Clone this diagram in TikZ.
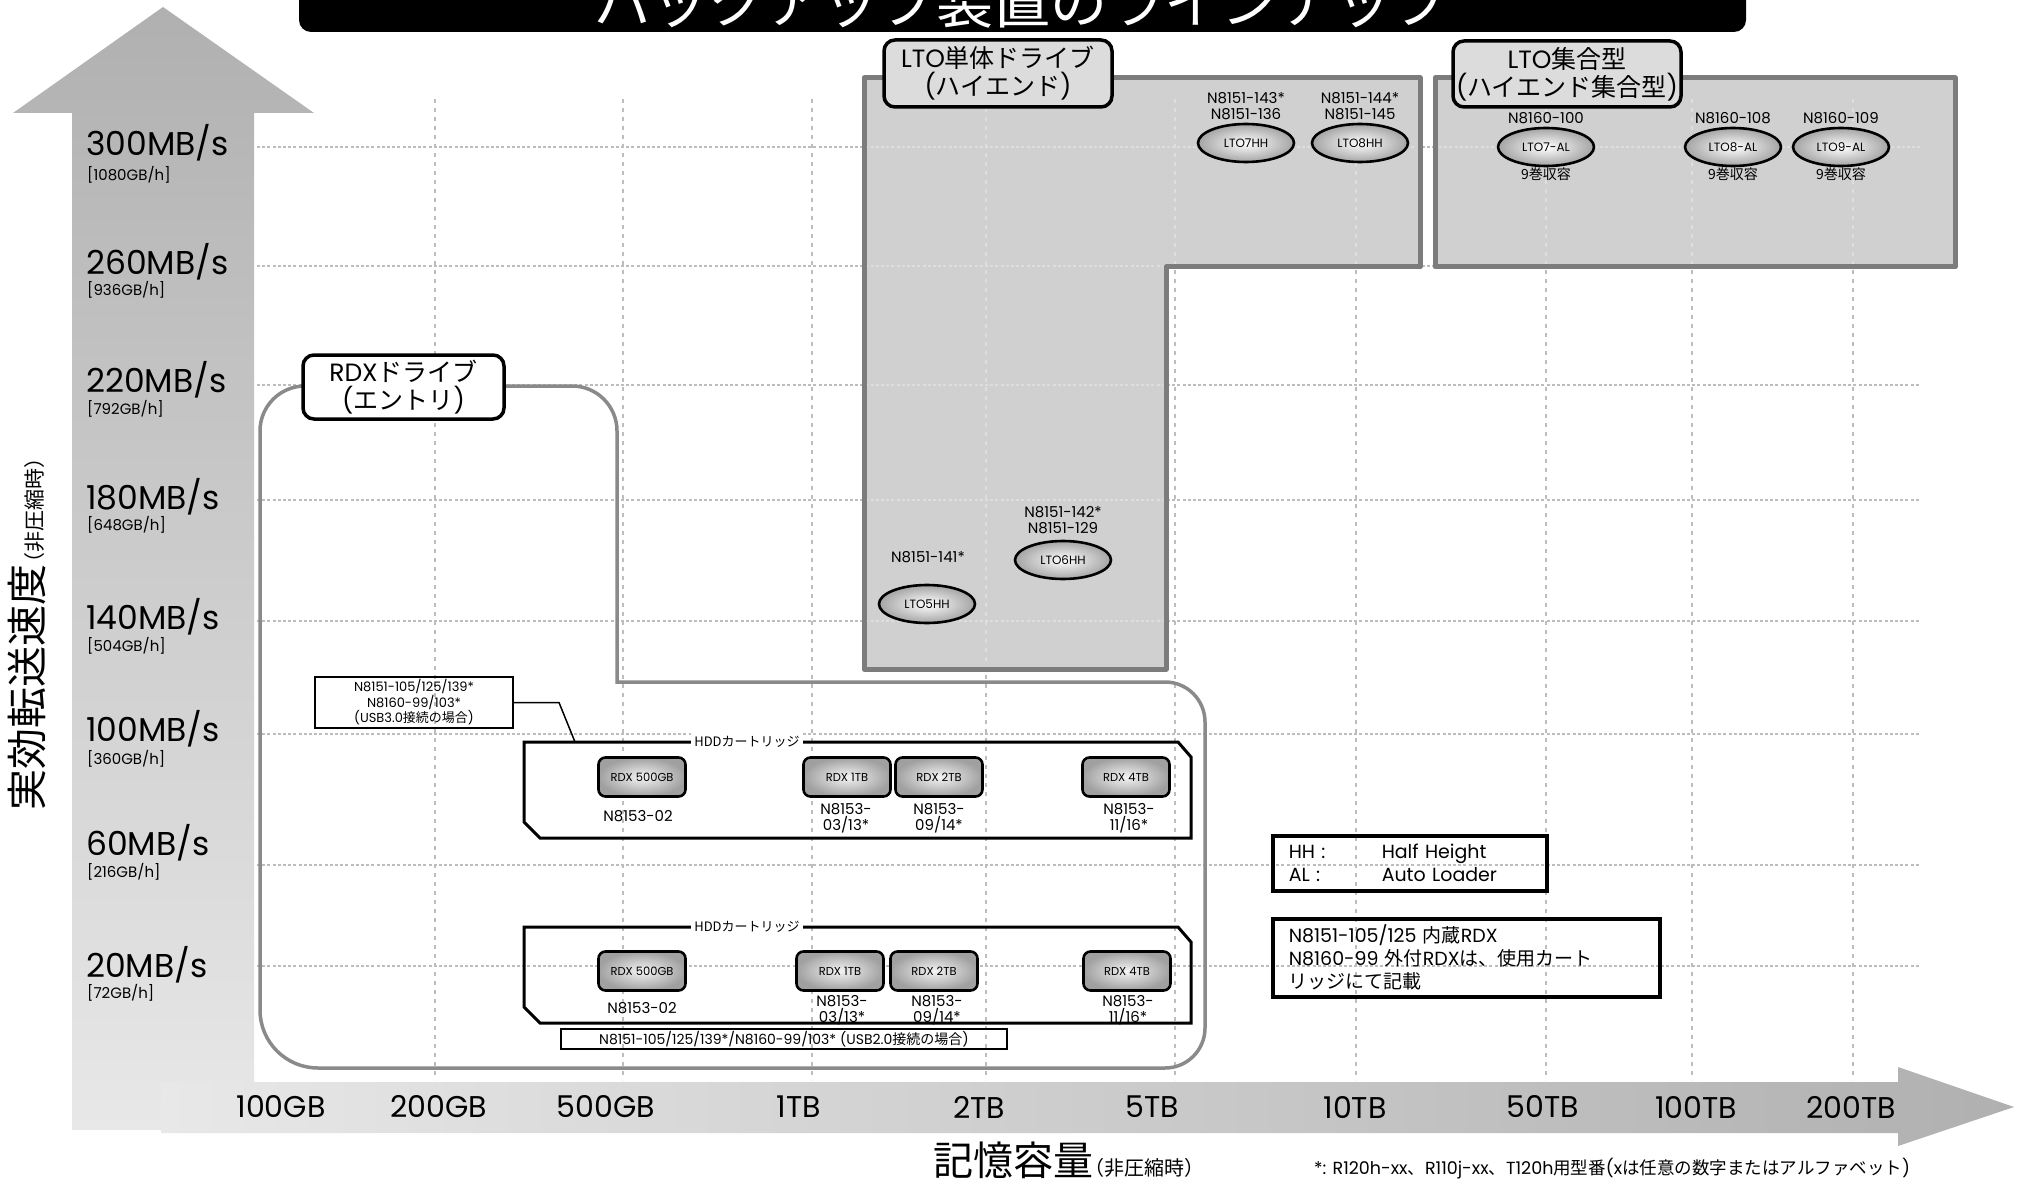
\documentclass[tikz,border=0pt]{standalone}
\usepackage{fontspec}
\setmainfont{Poppins}
\newfontfamily\jp{Noto Sans CJK JP}
\usetikzlibrary{shapes.geometric}
\newcommand\myfs[2]{\fontsize{#1}{#2}\selectfont}
\definecolor{gridc}{HTML}{BDBDBD}
\definecolor{gridlto}{HTML}{DEDEDE}
\definecolor{ltofill}{HTML}{D0D0D0}
\definecolor{ltoedge}{HTML}{7C7C7C}
\definecolor{rdxedge}{HTML}{8A8A8A}
\definecolor{armdark}{HTML}{B0B0B0}
\definecolor{armlight}{HTML}{E8E8E8}
\definecolor{lblfill}{HTML}{DCDCDC}
\definecolor{ellout}{HTML}{A4A4A4}
\definecolor{cartin}{HTML}{F4F4F4}
\definecolor{cartout}{HTML}{A0A0A0}
\begin{document}
\begin{tikzpicture}[x=1pt,y=-1pt,
  hgrid/.style={draw=gridc,line width=2.6pt,dash pattern=on 3pt off 2.2pt},
  vgrid/.style={draw=gridc,line width=2.6pt,dash pattern=on 4pt off 5pt},
  hgridl/.style={draw=gridlto,line width=2.6pt,dash pattern=on 3pt off 2.2pt},
  vgridl/.style={draw=gridlto,line width=2.6pt,dash pattern=on 4pt off 5pt},
  ltoregion/.style={fill=ltofill,draw=ltoedge,line width=5pt,line join=round},
  rdxline/.style={draw=rdxedge,line width=3.5pt},
  regtitle/.style={draw=black,line width=3.5pt,rounded corners=11pt,align=center,inner sep=0pt,font=\myfs{25}{28}},
  ltoell/.style={ellipse,draw=black,line width=2.6pt,minimum width=96pt,minimum height=38pt,inner sep=0pt,inner color=white,outer color=ellout,font=\myfs{12}{12}},
  rdxcart/.style={rectangle,rounded corners=7pt,draw=black,line width=2.6pt,minimum width=87pt,minimum height=39pt,inner sep=0pt,inner color=cartin,outer color=cartout,font=\myfs{11.5}{12}},
  model/.style={align=center,inner sep=0pt,font=\myfs{15}{16}},
  grpbox/.style={draw=black,line width=3pt,line join=miter},
  grplbl/.style={fill=white,inner sep=3pt,font=\jp\myfs{13}{13}},
  ylab/.style={anchor=west,inner sep=0pt,font=\myfs{33}{33}},
  ysub/.style={anchor=west,inner sep=0pt,font=\myfs{15}{15}},
  xlab/.style={inner sep=0pt,font=\myfs{30}{30}},
  legbox/.style={draw=black,line width=3.5pt,anchor=north west,align=left,inner xsep=16pt,inner ysep=0pt,font=\myfs{19}{23}},
  callbox/.style={draw=black,line width=1.5pt,align=center,inner sep=0pt,font=\myfs{13}{15.5}}
]
\useasboundingbox (0,0) rectangle (2018,1182);
\fill[white] (0,0) rectangle (2018,1182);

% axis arrows
\shade[top color=armdark,bottom color=armlight] (13,113) -- (163,7) -- (314,113) -- (254,113) -- (254,1130) -- (72,1130) -- (72,113) -- cycle;
\shade[left color=armlight,right color=armdark] (161,1082) -- (1898,1082) -- (1898,1067) -- (2014,1107) -- (1898,1146) -- (1898,1133) -- (161,1133) -- cycle;

% title bar
\fill[black,rounded corners=12pt] (299,-40) rectangle (1746,32);
\node[white,font=\jp\myfs{57}{57},anchor=base,inner sep=0pt] (title) at (1022,24) {バックアップ装置のラインナップ};

% grid
\foreach \y in {147,266,385,500,621,734,865,966} \draw[hgrid] (257,\y) -- (1920,\y);
\foreach \x in {435,623,812,986,1175,1356,1546,1692,1853} \draw[vgrid] (\x,99) -- (\x,1080);

% LTO regions
\draw[ltoregion] (864,78) -- (1420,78) -- (1420,267) -- (1166,267) -- (1166,669) -- (864,669) -- cycle;
\draw[ltoregion] (1435,78) rectangle (1955,267);
\begin{scope}
\clip (867,81) -- (1417,81) -- (1417,264) -- (1163,264) -- (1163,666) -- (867,666) -- cycle;
\foreach \y in {147,266,385,500,621} \draw[hgridl] (257,\y) -- (1920,\y);
\foreach \x in {986,1175,1356} \draw[vgridl] (\x,99) -- (\x,1080);
\end{scope}
\begin{scope}
\clip (1438,81) rectangle (1952,264);
\draw[hgridl] (1257,147) -- (1920,147);
\foreach \x in {1546,1692,1853} \draw[vgridl] (\x,99) -- (\x,1080);
\end{scope}

% RDX region outline
\draw[rdxline] (260,1010) -- (260,431) arc[start angle=180,end angle=270,radius=45] -- (572,386) arc[start angle=270,end angle=360,radius=45] -- (617,682) -- (1165,682) arc[start angle=270,end angle=360,radius=40] -- (1205,1028) arc[start angle=0,end angle=90,radius=40] -- (318,1068) arc[start angle=90,end angle=180,radius=58] -- cycle;

% region titles
\node[regtitle,fill=lblfill,minimum width=228pt,minimum height=67pt] (ltoA) at (998,73.5) {LTO{\jp 単体ドライブ}\\({\jp ハイエンド})};
\node[regtitle,fill=lblfill,minimum width=228pt,minimum height=66pt] (ltoB) at (1567,74) {LTO{\jp 集合型}\\({\jp ハイエンド集合型})};
\node[regtitle,fill=white,minimum width=201pt,minimum height=64pt] (rdxT) at (403.5,387) {RDX{\jp ドライブ}\\({\jp エントリ})};

% LTO drives
\node[ltoell] (lto7hh) at (1246,143) {LTO7HH};
\node[model] (m7hh) at (1246,106) {N8151-143*\\N8151-136};
\node[ltoell] (lto8hh) at (1360,143) {LTO8HH};
\node[model] (m8hh) at (1360,106) {N8151-144*\\N8151-145};
\node[ltoell] (lto7al) at (1546,147) {LTO7-AL};
\node[model] (m7al) at (1546,118) {N8160-100};
\node[model,font=\jp\myfs{14}{14}] (c7al) at (1546,174) {9巻収容};
\node[ltoell] (lto8al) at (1733,147) {LTO8-AL};
\node[model] (m8al) at (1733,118) {N8160-108};
\node[model,font=\jp\myfs{14}{14}] (c8al) at (1733,174) {9巻収容};
\node[ltoell] (lto9al) at (1841,147) {LTO9-AL};
\node[model] (m9al) at (1841,118) {N8160-109};
\node[model,font=\jp\myfs{14}{14}] (c9al) at (1841,174) {9巻収容};
\node[ltoell] (lto5hh) at (927,604) {LTO5HH};
\node[model] (m5hh) at (928,557) {N8151-141*};
\node[ltoell] (lto6hh) at (1063,560) {LTO6HH};
\node[model] (m6hh) at (1063,520) {N8151-142*\\N8151-129};

% HDD cartridge groups
\draw[grpbox] (524,742) -- (1178,742) -- (1191,757) -- (1191,838) -- (540,838) -- (524,822) -- cycle;
\node[grplbl] (hddA) at (747,742) {HDDカートリッジ};
\node[rdxcart] (ca1) at (642,777) {RDX 500GB};
\node[rdxcart] (ca2) at (847,777) {RDX 1TB};
\node[rdxcart] (ca3) at (939,777) {RDX 2TB};
\node[rdxcart] (ca4) at (1126,777) {RDX 4TB};
\node[model] (la1) at (638,816) {N8153-02};
\node[model] (la2) at (846,818) {N8153-\\03/13*};
\node[model] (la3) at (939,818) {N8153-\\09/14*};
\node[model] (la4) at (1129,818) {N8153-\\11/16*};

\draw[grpbox] (524,927) -- (1178,927) -- (1191,942) -- (1191,1023) -- (540,1023) -- (524,1007) -- cycle;
\node[grplbl] (hddB) at (747,927) {HDDカートリッジ};
\node[rdxcart] (cb1) at (642,971) {RDX 500GB};
\node[rdxcart] (cb2) at (840,971) {RDX 1TB};
\node[rdxcart] (cb3) at (934,971) {RDX 2TB};
\node[rdxcart] (cb4) at (1127,971) {RDX 4TB};
\node[model] (lb1) at (642,1008) {N8153-02};
\node[model] (lb2) at (842,1010.5) {N8153-\\03/13*};
\node[model] (lb3) at (937,1010.5) {N8153-\\09/14*};
\node[model] (lb4) at (1128,1010.5) {N8153-\\11/16*};

% callouts
\node[callbox,minimum width=198pt,minimum height=51pt] (usb3) at (414,702.5) {N8151-105/125/139*\\N8160-99/103*\\(USB3.0{\jp 接続の場合})};
\coordinate (usb3end) at (575,742);
\draw[line width=1.5pt] (usb3.east) -- (559,702.5) -- (usb3end);
\node[callbox,minimum width=446pt,minimum height=20pt,font=\myfs{14}{14}] (usb2) at (784,1039) {N8151-105/125/139*/N8160-99/103* (USB2.0{\jp 接続の場合})};

% legends
\node[legbox,text width=242pt,minimum height=55pt] (leg1) at (1271,834) {\makebox[93pt][l]{HH :}Half Height\\\makebox[93pt][l]{AL :}Auto Loader};
\node[legbox,text width=355pt,minimum height=78pt] (leg2) at (1271,917) {N8151-105/125 {\jp 内蔵}RDX\\N8160-99 {\jp 外付}RDX{\jp は、使用カート}\\{\jp リッジにて記載}};

% y axis labels
\node[ylab] (y300) at (86,143) {300MB/s};
\node[ysub] (s300) at (87,175) {[1080GB/h]};
\node[ylab] (y260) at (86,262) {260MB/s};
\node[ysub] (s260) at (87,290) {[936GB/h]};
\node[ylab] (y220) at (86,380) {220MB/s};
\node[ysub] (s220) at (87,409) {[792GB/h]};
\node[ylab] (y180) at (86,497) {180MB/s};
\node[ysub] (s180) at (87,525) {[648GB/h]};
\node[ylab] (y140) at (86,617) {140MB/s};
\node[ysub] (s140) at (87,646) {[504GB/h]};
\node[ylab] (y100) at (86,729) {100MB/s};
\node[ysub] (s100) at (87,759) {[360GB/h]};
\node[ylab] (y60) at (86,843) {60MB/s};
\node[ysub] (s60) at (87,872) {[216GB/h]};
\node[ylab] (y20) at (86,965) {20MB/s};
\node[ysub] (s20) at (87,993) {[72GB/h]};

% x axis labels
\node[xlab] (x1) at (281,1107) {100GB};
\node[xlab] (x2) at (439,1107) {200GB};
\node[xlab] (x3) at (606,1107) {500GB};
\node[xlab] (x4) at (799,1107) {1TB};
\node[xlab] (x5) at (979,1107) {2TB};
\node[xlab] (x6) at (1152,1107) {5TB};
\node[xlab] (x7) at (1355,1107) {10TB};
\node[xlab] (x8) at (1543,1107) {50TB};
\node[xlab] (x9) at (1696,1107) {100TB};
\node[xlab] (x10) at (1851,1107) {200TB};

% axis titles
\node[rotate=90,anchor=base west,inner sep=0pt] (ytitle) at (42,811) {{\jp\myfs{41}{41}実効転送速度}{\jp\myfs{21}{21}\kern-9pt（非圧縮時）}};
\node[anchor=base west,inner sep=0pt] (xtitle) at (933,1175) {{\jp\myfs{40}{40}記憶容量}{\jp\myfs{20}{20}\kern-9pt（非圧縮時）}};

% footnote
\node[anchor=west,inner sep=0pt,font=\myfs{17.5}{17.5}] (fn) at (1314,1169) {*: R120h-xx{\jp 、}R110j-xx{\jp 、}T120h{\jp 用型番}(x{\jp は任意の数字またはアルファベット})};
\end{tikzpicture}
\end{document}
